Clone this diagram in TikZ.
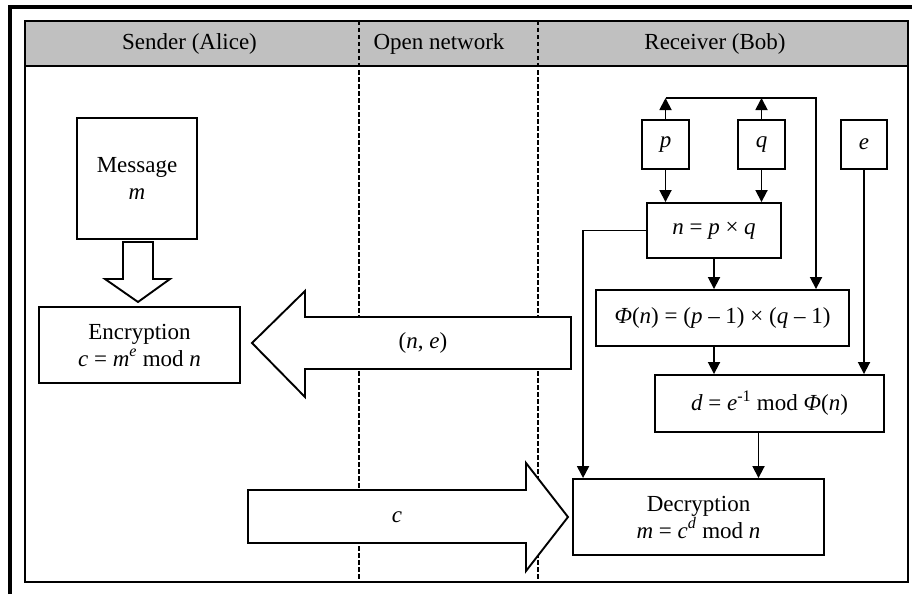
\documentclass[tikz,border=0pt]{standalone}
\usepackage{fontspec}
\setmainfont{Liberation Serif}
\usetikzlibrary{arrows.meta, positioning}
\definecolor{chead}{HTML}{C0C0C0}
\newcommand{\vi}[1]{\textit{#1}}

\begin{document}
\begin{tikzpicture}[
  x=1pt, y=-1pt,
  font=\fontsize{23}{27}\selectfont,
  box/.style={draw, line width=1.9pt, align=center, inner sep=0pt, fill=white},
  head/.style={align=center},
  lane/.style={line width=1.8pt, dash pattern=on 4.5pt off 2.5pt},
  fatarrow/.style={draw, fill=white, line width=1.9pt, line join=miter},
  flow/.style={-{Triangle[length=12pt, width=12pt]}, line width=1.8pt}
]
\useasboundingbox (0,0) rectangle (915,594);

% header band
\fill[chead] (25,21) rectangle (908,66);
\draw[lane] (359,21) -- (359,582);
\draw[lane] (538,21) -- (538,582);
\node[head] (hs) at (189.5,43.5) {Sender (Alice)};
\node[head] (hn) at (439,43.5) {Open network};
\node[head] (hr) at (715,43.5) {Receiver (Bob)};

% sender
\node[box, minimum width=120pt, minimum height=121pt] (msg) at (137,178.5) {Message\\\vi{m}};
\node[box, minimum width=201pt, minimum height=76pt] (enc) at (139.5,345)
  {Encryption\\\vi{c} = \vi{m}\textsuperscript{\vi{e}} mod \vi{n}};
\draw[fatarrow] (123,242) -- (153,242) -- (153,279) -- (170,279) -- (138,302)
  -- (105,279) -- (123,279) -- cycle;

% receiver
\node[box, minimum width=47pt, minimum height=49pt] (p) at (665.5,144.5) {\vi{p}};
\node[box, minimum width=47pt, minimum height=49pt] (q) at (761.5,144.5) {\vi{q}};
\node[box, minimum width=46pt, minimum height=49pt] (e) at (864,144.5) {\vi{e}};
\node[box, minimum width=134pt, minimum height=55pt] (n) at (714,230.5) {\vi{n} = \vi{p} × \vi{q}};
\node[box, minimum width=253pt, minimum height=56pt] (phi) at (722.5,318)
  {\vi{Φ}(\vi{n}) = (\vi{p} – 1) × (\vi{q} – 1)};
\node[box, minimum width=229pt, minimum height=57pt] (d) at (769.5,403.5)
  {\vi{d} = \vi{e}\textsuperscript{-1} mod \vi{Φ}(\vi{n})};
\node[box, minimum width=251pt, minimum height=76pt] (dec) at (698.5,517)
  {Decryption\\\vi{m} = \vi{c}\textsuperscript{\vi{d}} mod \vi{n}};

\coordinate (tj) at (816,98);
\draw[flow] (p.north) -- (p.north |- tj);
\draw[flow] (q.north) -- (q.north |- tj);
\draw[flow] (p.north |- tj) -- (tj) -- (tj |- phi.north);
\draw[flow] (p.south) -- (p.south |- n.north);
\draw[flow] (q.south) -- (q.south |- n.north);
\draw[flow] (n.south) -- (n.south |- phi.north);
\draw[flow] (n.south |- phi.south) -- (n.south |- d.north);
\draw[flow] (e.south) -- (e.south |- d.north);
\draw[flow] ([xshift=-11pt]d.south) -- ([xshift=-11pt]d.south |- dec.north);
\draw[flow] (n.west) -| ([xshift=11pt]dec.north west);

% network
\draw[fatarrow] (571,317) -- (305,317) -- (305,291) -- (252,343) -- (305,397)
  -- (305,369) -- (571,369) -- cycle;
\node (ne) at (423,343) {(\vi{n}, \vi{e})};
\draw[fatarrow] (248,490) -- (526,490) -- (526,463) -- (568,517) -- (526,571)
  -- (526,543) -- (248,543) -- cycle;
\node (cc) at (397,517) {\vi{c}};

% frames
\draw[line width=1.9pt] (25,21) rectangle (908,582);
\draw[line width=1.9pt] (25,66) -- (908,66);
\draw[line width=3.2pt, line join=miter] (10,594) -- (10,7) -- (912,7);
\end{tikzpicture}
\end{document}
